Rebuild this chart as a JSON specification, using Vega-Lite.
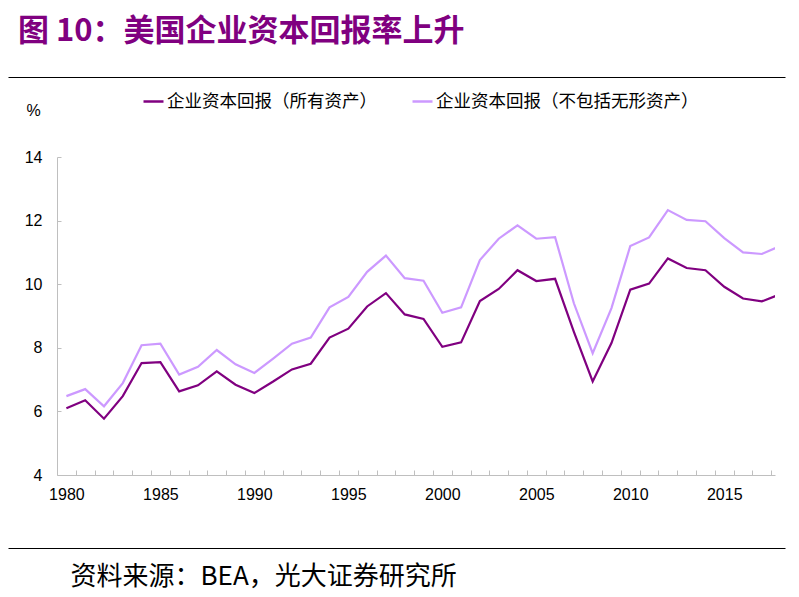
{
  "$schema": "https://vega.github.io/schema/vega-lite/v6.json",
  "width": 718,
  "height": 318,
  "autosize": "none",
  "padding": {"left": 57, "top": 157, "right": 24, "bottom": 122},
  "background": "white",
  "title": {
    "text": "图 10：美国企业资本回报率上升",
    "anchor": "start",
    "frame": "group",
    "font": "Noto Sans CJK SC",
    "fontSize": 31,
    "fontWeight": "bold",
    "color": "#800080",
    "dx": -39,
    "offset": 29
  },
  "data": {
    "values": [
      {"year": 1980, "series": "企业资本回报（所有资产）", "value": 6.10},
      {"year": 1981, "series": "企业资本回报（所有资产）", "value": 6.35},
      {"year": 1982, "series": "企业资本回报（所有资产）", "value": 5.77},
      {"year": 1983, "series": "企业资本回报（所有资产）", "value": 6.48},
      {"year": 1984, "series": "企业资本回报（所有资产）", "value": 7.52},
      {"year": 1985, "series": "企业资本回报（所有资产）", "value": 7.55},
      {"year": 1986, "series": "企业资本回报（所有资产）", "value": 6.63},
      {"year": 1987, "series": "企业资本回报（所有资产）", "value": 6.82},
      {"year": 1988, "series": "企业资本回报（所有资产）", "value": 7.26},
      {"year": 1989, "series": "企业资本回报（所有资产）", "value": 6.84},
      {"year": 1990, "series": "企业资本回报（所有资产）", "value": 6.58},
      {"year": 1991, "series": "企业资本回报（所有资产）", "value": 6.94},
      {"year": 1992, "series": "企业资本回报（所有资产）", "value": 7.32},
      {"year": 1993, "series": "企业资本回报（所有资产）", "value": 7.50},
      {"year": 1994, "series": "企业资本回报（所有资产）", "value": 8.32},
      {"year": 1995, "series": "企业资本回报（所有资产）", "value": 8.60},
      {"year": 1996, "series": "企业资本回报（所有资产）", "value": 9.30},
      {"year": 1997, "series": "企业资本回报（所有资产）", "value": 9.72},
      {"year": 1998, "series": "企业资本回报（所有资产）", "value": 9.05},
      {"year": 1999, "series": "企业资本回报（所有资产）", "value": 8.91},
      {"year": 2000, "series": "企业资本回报（所有资产）", "value": 8.03},
      {"year": 2001, "series": "企业资本回报（所有资产）", "value": 8.17},
      {"year": 2002, "series": "企业资本回报（所有资产）", "value": 9.47},
      {"year": 2003, "series": "企业资本回报（所有资产）", "value": 9.85},
      {"year": 2004, "series": "企业资本回报（所有资产）", "value": 10.44},
      {"year": 2005, "series": "企业资本回报（所有资产）", "value": 10.10},
      {"year": 2006, "series": "企业资本回报（所有资产）", "value": 10.17},
      {"year": 2007, "series": "企业资本回报（所有资产）", "value": 8.50},
      {"year": 2008, "series": "企业资本回报（所有资产）", "value": 6.94},
      {"year": 2009, "series": "企业资本回报（所有资产）", "value": 8.15},
      {"year": 2010, "series": "企业资本回报（所有资产）", "value": 9.83},
      {"year": 2011, "series": "企业资本回报（所有资产）", "value": 10.02},
      {"year": 2012, "series": "企业资本回报（所有资产）", "value": 10.81},
      {"year": 2013, "series": "企业资本回报（所有资产）", "value": 10.51},
      {"year": 2014, "series": "企业资本回报（所有资产）", "value": 10.44},
      {"year": 2015, "series": "企业资本回报（所有资产）", "value": 9.92},
      {"year": 2016, "series": "企业资本回报（所有资产）", "value": 9.55},
      {"year": 2017, "series": "企业资本回报（所有资产）", "value": 9.46},
      {"year": 2018, "series": "企业资本回报（所有资产）", "value": 9.69},
      {"year": 1980, "series": "企业资本回报（不包括无形资产）", "value": 6.48},
      {"year": 1981, "series": "企业资本回报（不包括无形资产）", "value": 6.70},
      {"year": 1982, "series": "企业资本回报（不包括无形资产）", "value": 6.16},
      {"year": 1983, "series": "企业资本回报（不包括无形资产）", "value": 6.89},
      {"year": 1984, "series": "企业资本回报（不包括无形资产）", "value": 8.08},
      {"year": 1985, "series": "企业资本回报（不包括无形资产）", "value": 8.13},
      {"year": 1986, "series": "企业资本回报（不包括无形资产）", "value": 7.16},
      {"year": 1987, "series": "企业资本回报（不包括无形资产）", "value": 7.40},
      {"year": 1988, "series": "企业资本回报（不包括无形资产）", "value": 7.93},
      {"year": 1989, "series": "企业资本回报（不包括无形资产）", "value": 7.48},
      {"year": 1990, "series": "企业资本回报（不包括无形资产）", "value": 7.21},
      {"year": 1991, "series": "企业资本回报（不包括无形资产）", "value": 7.66},
      {"year": 1992, "series": "企业资本回报（不包括无形资产）", "value": 8.13},
      {"year": 1993, "series": "企业资本回报（不包括无形资产）", "value": 8.32},
      {"year": 1994, "series": "企业资本回报（不包括无形资产）", "value": 9.27},
      {"year": 1995, "series": "企业资本回报（不包括无形资产）", "value": 9.60},
      {"year": 1996, "series": "企业资本回报（不包括无形资产）", "value": 10.39},
      {"year": 1997, "series": "企业资本回报（不包括无形资产）", "value": 10.90},
      {"year": 1998, "series": "企业资本回报（不包括无形资产）", "value": 10.19},
      {"year": 1999, "series": "企业资本回报（不包括无形资产）", "value": 10.11},
      {"year": 2000, "series": "企业资本回报（不包括无形资产）", "value": 9.10},
      {"year": 2001, "series": "企业资本回报（不包括无形资产）", "value": 9.27},
      {"year": 2002, "series": "企业资本回报（不包括无形资产）", "value": 10.76},
      {"year": 2003, "series": "企业资本回报（不包括无形资产）", "value": 11.43},
      {"year": 2004, "series": "企业资本回报（不包括无形资产）", "value": 11.85},
      {"year": 2005, "series": "企业资本回报（不包括无形资产）", "value": 11.43},
      {"year": 2006, "series": "企业资本回报（不包括无形资产）", "value": 11.48},
      {"year": 2007, "series": "企业资本回报（不包括无形资产）", "value": 9.40},
      {"year": 2008, "series": "企业资本回报（不包括无形资产）", "value": 7.83},
      {"year": 2009, "series": "企业资本回报（不包括无形资产）", "value": 9.25},
      {"year": 2010, "series": "企业资本回报（不包括无形资产）", "value": 11.20},
      {"year": 2011, "series": "企业资本回报（不包括无形资产）", "value": 11.47},
      {"year": 2012, "series": "企业资本回报（不包括无形资产）", "value": 12.33},
      {"year": 2013, "series": "企业资本回报（不包括无形资产）", "value": 12.02},
      {"year": 2014, "series": "企业资本回报（不包括无形资产）", "value": 11.98},
      {"year": 2015, "series": "企业资本回报（不包括无形资产）", "value": 11.45},
      {"year": 2016, "series": "企业资本回报（不包括无形资产）", "value": 11.00},
      {"year": 2017, "series": "企业资本回报（不包括无形资产）", "value": 10.95},
      {"year": 2018, "series": "企业资本回报（不包括无形资产）", "value": 11.21}
    ]
  },
  "layer": [
    {
      "transform": [{"filter": "datum.series === '企业资本回报（所有资产）'"}],
      "mark": {"type": "line", "strokeWidth": 2.2, "clip": true},
      "encoding": {
        "x": {
          "field": "year",
          "type": "quantitative",
          "scale": {"domain": [1979.5, 2017.7], "nice": false, "zero": false},
          "axis": {
            "orient": "bottom",
            "values": [1980.5, 1981.5, 1982.5, 1983.5, 1984.5, 1985.5, 1986.5, 1987.5, 1988.5, 1989.5, 1990.5, 1991.5, 1992.5, 1993.5, 1994.5, 1995.5, 1996.5, 1997.5, 1998.5, 1999.5, 2000.5, 2001.5, 2002.5, 2003.5, 2004.5, 2005.5, 2006.5, 2007.5, 2008.5, 2009.5, 2010.5, 2011.5, 2012.5, 2013.5, 2014.5, 2015.5, 2016.5, 2017.5],
            "labels": false,
            "title": null,
            "domainColor": "#BFBFBF",
            "tickColor": "#BFBFBF",
            "tickSize": -5
          }
        },
        "y": {
          "field": "value",
          "type": "quantitative",
          "scale": {"domain": [4, 14], "nice": false, "zero": false},
          "axis": {"title": "%", "values": [4, 6, 8, 10, 12, 14]}
        },
        "color": {
          "field": "series",
          "type": "nominal",
          "scale": {
            "domain": ["企业资本回报（所有资产）", "企业资本回报（不包括无形资产）"],
            "range": ["#800080", "#CC99FF"]
          },
          "legend": {
            "orient": "none",
            "direction": "horizontal",
            "legendX": 85,
            "legendY": -67,
            "title": null
          }
        }
      }
    },
    {
      "transform": [{"filter": "datum.series === '企业资本回报（不包括无形资产）'"}],
      "mark": {"type": "line", "strokeWidth": 2.2, "clip": true},
      "encoding": {
        "x": {
          "field": "year",
          "type": "quantitative",
          "scale": {"domain": [1979.5, 2017.7], "nice": false, "zero": false},
          "axis": {
            "orient": "bottom",
            "values": [1980, 1985, 1990, 1995, 2000, 2005, 2010, 2015],
            "format": "d",
            "ticks": false,
            "domain": false,
            "title": null,
            "labelPadding": 11
          }
        },
        "y": {
          "field": "value",
          "type": "quantitative",
          "axis": {"title": "%", "values": [4, 6, 8, 10, 12, 14]}
        },
        "color": {"field": "series", "type": "nominal"}
      }
    },
    {
      "mark": {"type": "point", "opacity": 0, "clip": true},
      "encoding": {
        "x": {
          "field": "year",
          "type": "quantitative",
          "scale": {"domain": [0, 1], "range": [-49, 728], "nice": false, "zero": false},
          "axis": {
            "orient": "top",
            "offset": 80,
            "ticks": false,
            "labels": false,
            "title": null,
            "domainColor": "#000000",
            "domainWidth": 1
          }
        }
      }
    },
    {
      "mark": {"type": "point", "opacity": 0, "clip": true},
      "encoding": {
        "x": {
          "field": "year",
          "type": "quantitative",
          "scale": {"domain": [0, 1], "range": [-49, 728], "nice": false, "zero": false},
          "axis": {
            "orient": "bottom",
            "offset": 73,
            "ticks": false,
            "labels": false,
            "domainColor": "#000000",
            "domainWidth": 1,
            "title": "资料来源：BEA，光大证券研究所",
            "titleFont": "Noto Sans CJK SC",
            "titleFontSize": 26,
            "titleFontWeight": "normal",
            "titleColor": "#000000",
            "titleAlign": "left",
            "titleBaseline": "middle",
            "titleX": 13,
            "titleY": 28
          }
        }
      }
    }
  ],
  "resolve": {"scale": {"x": "independent"}, "axis": {"x": "independent"}},
  "config": {
    "view": {"stroke": null},
    "axis": {
      "grid": false,
      "labelFont": "Liberation Sans",
      "labelFontSize": 16,
      "labelColor": "#000000"
    },
    "axisY": {
      "domainColor": "#BFBFBF",
      "tickColor": "#BFBFBF",
      "tickSize": -4,
      "labelPadding": 19,
      "titleAngle": 0,
      "titleX": -24,
      "titleY": -47,
      "titleAlign": "center",
      "titleBaseline": "middle",
      "titleFont": "Liberation Sans",
      "titleFontSize": 16,
      "titleFontWeight": "normal",
      "titleColor": "#000000"
    },
    "legend": {
      "symbolType": "stroke",
      "symbolSize": 400,
      "symbolStrokeWidth": 2.5,
      "labelFont": "Noto Sans CJK SC",
      "labelFontSize": 17.5,
      "labelColor": "#000000",
      "labelOffset": 2,
      "columnPadding": 30,
      "labelLimit": 400
    }
  }
}
